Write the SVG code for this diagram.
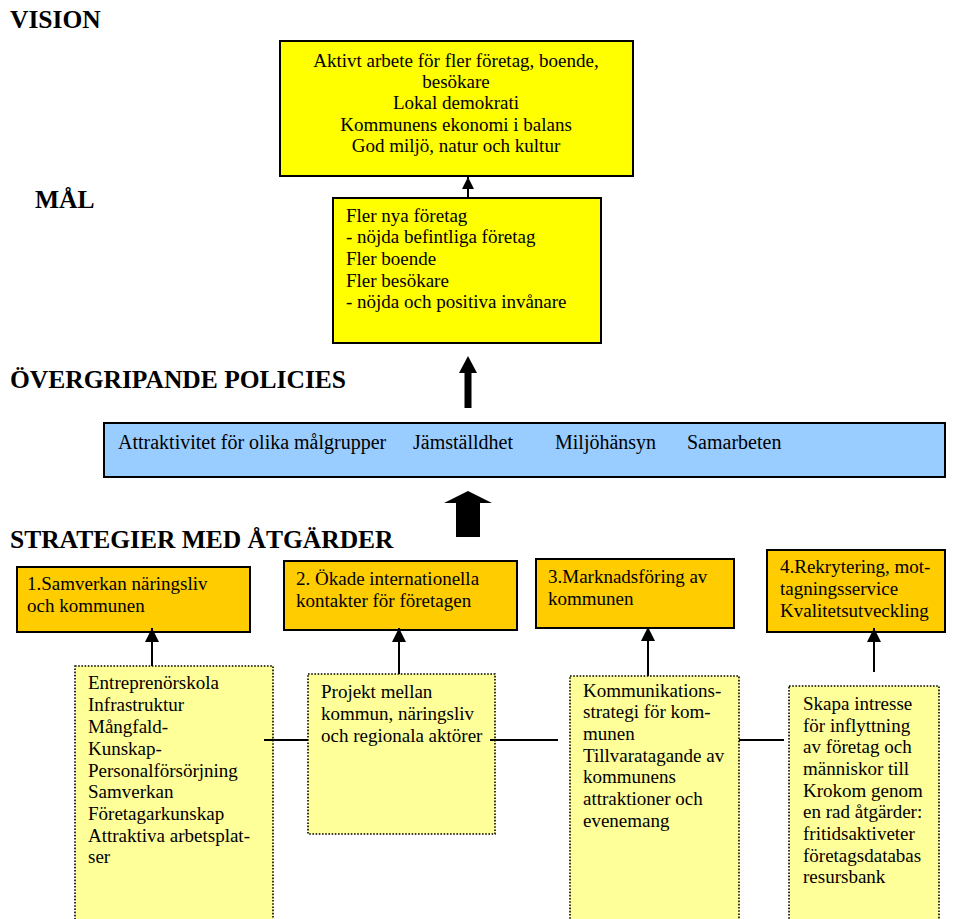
<svg xmlns="http://www.w3.org/2000/svg" width="953" height="919" viewBox="0 0 953 919">
<defs>
<style>
text{font-family:"Liberation Serif","Times New Roman",serif;font-size:19px;fill:#000}
.h{font-weight:bold;font-size:25.5px}
.p{font-size:20px}
.c{text-anchor:middle}
.solid{stroke:#000;stroke-width:2}
.dot{stroke:#000;stroke-width:1.6;stroke-dasharray:1.6 1.6}
.ln{stroke:#000;stroke-width:2;fill:none}
</style>
<marker id="ah" viewBox="0 0 10 10" refX="10" refY="5" markerWidth="14" markerHeight="14" markerUnits="userSpaceOnUse" orient="auto">
<path d="M0,0 L10,5 L0,10 z" fill="#000"/>
</marker>
<marker id="ahs" viewBox="0 0 10 10" refX="10" refY="5" markerWidth="13" markerHeight="12" markerUnits="userSpaceOnUse" orient="auto">
<path d="M0,0 L10,5 L0,10 z" fill="#000"/>
</marker>
</defs>
<rect width="953" height="919" fill="#fff"/>

<g id="headings">
<text class="h" x="10" y="28">VISION</text>
<text class="h" x="35" y="208">MÅL</text>
<text class="h" x="10" y="388">ÖVERGRIPANDE POLICIES</text>
<text class="h" x="10" y="548">STRATEGIER MED ÅTGÄRDER</text>
</g>

<g id="vision">
<rect class="solid" x="280" y="41" width="353" height="135" fill="#FFFF00"/>
<text class="c" x="456" y="67">Aktivt arbete för fler företag, boende,</text>
<text class="c" x="456" y="88">besökare</text>
<text class="c" x="456" y="109">Lokal demokrati</text>
<text class="c" x="456" y="131">Kommunens ekonomi i balans</text>
<text class="c" x="456" y="152">God miljö, natur och kultur</text>
</g>

<g id="mal">
<rect class="solid" x="333" y="198" width="268" height="145" fill="#FFFF00"/>
<text x="346" y="222">Fler nya företag</text>
<text x="346" y="243">- nöjda befintliga företag</text>
<text x="346" y="265">Fler boende</text>
<text x="346" y="287">Fler besökare</text>
<text x="346" y="308">- nöjda och positiva invånare</text>
</g>

<g id="policies">
<rect class="solid" x="104" y="423" width="841" height="54" fill="#99CCFF"/>
<text class="p" x="118" y="449">Attraktivitet för olika målgrupper</text>
<text class="p" x="413" y="449">Jämställdhet</text>
<text class="p" x="555" y="449">Miljöhänsyn</text>
<text class="p" x="687" y="449">Samarbeten</text>
</g>

<g id="strategi1">
<rect class="solid" x="17" y="567" width="233" height="65" fill="#FFCC00"/>
<text x="27" y="590">1.Samverkan näringsliv</text>
<text x="27" y="612">och kommunen</text>
</g>
<g id="strategi2">
<rect class="solid" x="284" y="561" width="233" height="69" fill="#FFCC00"/>
<text x="296" y="585">2. Ökade internationella</text>
<text x="296" y="607">kontakter för företagen</text>
</g>
<g id="strategi3">
<rect class="solid" x="536" y="559" width="198" height="69" fill="#FFCC00"/>
<text x="548" y="583">3.Marknadsföring av</text>
<text x="548" y="605">kommunen</text>
</g>
<g id="strategi4">
<rect class="solid" x="767" y="550" width="178" height="82" fill="#FFCC00"/>
<text x="780" y="573">4.Rekrytering, mot-</text>
<text x="780" y="595">tagningsservice</text>
<text x="780" y="617">Kvalitetsutveckling</text>
</g>

<g id="atgard1">
<rect class="dot" x="75" y="666" width="198" height="260" fill="#FFFF99"/>
<text x="88" y="689">Entreprenörskola</text>
<text x="88" y="711">Infrastruktur</text>
<text x="88" y="733">Mångfald-</text>
<text x="88" y="755">Kunskap-</text>
<text x="88" y="777">Personalförsörjning</text>
<text x="88" y="798">Samverkan</text>
<text x="88" y="820">Företagarkunskap</text>
<text x="88" y="842">Attraktiva arbetsplat-</text>
<text x="88" y="863">ser</text>
</g>
<g id="atgard2">
<rect class="dot" x="308" y="674" width="187" height="160" fill="#FFFF99"/>
<text x="321" y="698">Projekt mellan</text>
<text x="321" y="720">kommun, näringsliv</text>
<text x="321" y="742">och regionala aktörer</text>
</g>
<g id="atgard3">
<rect class="dot" x="570" y="676" width="169" height="250" fill="#FFFF99"/>
<text x="583" y="697">Kommunikations-</text>
<text x="583" y="718">strategi för kom-</text>
<text x="583" y="740">munen</text>
<text x="583" y="762">Tillvaratagande av</text>
<text x="583" y="783">kommunens</text>
<text x="583" y="805">attraktioner och</text>
<text x="583" y="827">evenemang</text>
</g>
<g id="atgard4">
<rect class="dot" x="789" y="686" width="150" height="240" fill="#FFFF99"/>
<text x="803" y="710">Skapa intresse</text>
<text x="803" y="732">för inflyttning</text>
<text x="803" y="753">av företag och</text>
<text x="803" y="775">människor till</text>
<text x="803" y="797">Krokom genom</text>
<text x="803" y="818">en rad åtgärder:</text>
<text x="803" y="840">fritidsaktiveter</text>
<text x="803" y="862">företagsdatabas</text>
<text x="803" y="883">resursbank</text>
</g>

<g id="connectors">
<line class="ln" x1="468" y1="198" x2="468" y2="177" marker-end="url(#ahs)"/>
<path d="M464.5,408 L464.5,373 L459,373 L468,356 L477,373 L471.5,373 L471.5,408 z" fill="#000"/>
<path d="M456,537 L456,503 L444,503 L468,491 L492,503 L480,503 L480,537 z" fill="#000"/>
<line class="ln" x1="152" y1="666" x2="152" y2="628" marker-end="url(#ah)"/>
<line class="ln" x1="399" y1="674" x2="399" y2="628" marker-end="url(#ah)"/>
<line class="ln" x1="648" y1="676" x2="648" y2="627" marker-end="url(#ah)"/>
<line class="ln" x1="874" y1="672" x2="874" y2="628" marker-end="url(#ah)"/>
<line class="ln" x1="264" y1="740" x2="308" y2="740"/>
<line class="ln" x1="490" y1="740" x2="558" y2="740"/>
<line class="ln" x1="739" y1="740" x2="784" y2="740"/>
</g>
</svg>
